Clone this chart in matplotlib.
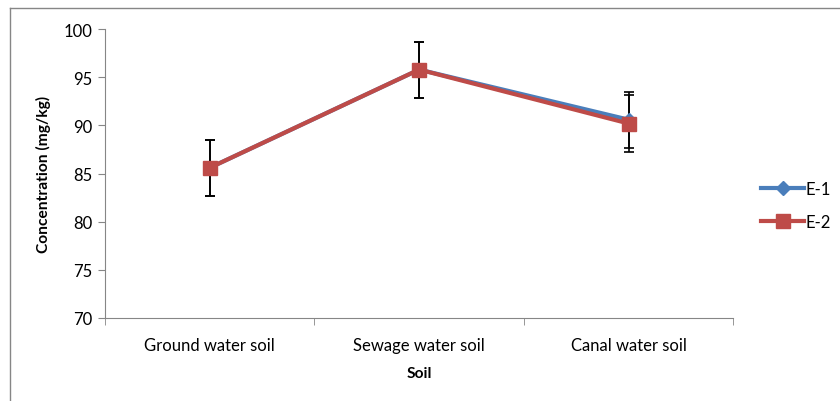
import numpy as np
import matplotlib.pyplot as plt
from matplotlib.lines import Line2D

soils = ['Ground water soil', 'Sewage water soil', 'Canal water soil']
e1 = [85.6, 95.8, 90.6]
e2 = [85.6, 95.8, 90.2]
e1_err = [2.9, 2.9, 2.9]
e2_err = [2.9, 2.9, 3.0]

plt.rcParams['font.family'] = ['Lato', 'DejaVu Sans']
axis_grey = '#868686'

fig = plt.figure(figsize=(8.4, 4.02), dpi=100)
ax = fig.add_axes([0.125, 0.2065, 0.748, 0.7185])

x = np.arange(len(soils))

ax.errorbar(x, e1, yerr=e1_err, fmt='none', ecolor='black', elinewidth=1.2,
            capsize=3.5, capthick=1.2, zorder=2)
ax.errorbar(x, e2, yerr=e2_err, fmt='none', ecolor='black', elinewidth=1.2,
            capsize=3.5, capthick=1.2, zorder=2)
ax.plot(x, e1, color='#4A7EBB', lw=3, marker='D', markersize=7, label='E-1', zorder=3)
ax.plot(x, e2, color='#BE4B48', lw=3, marker='s', markersize=10, label='E-2', zorder=4)

ax.set_xlim(-0.5, 2.5)
ax.set_ylim(70, 100)
ax.set_yticks(np.arange(70, 101, 5))
ax.set_xticks(x)
ax.set_xticklabels(soils)
ax.set_xticks([-0.5, 0.5, 1.5, 2.5], minor=True)
ax.tick_params(axis='x', which='major', length=0, pad=14, labelsize=12)
ax.tick_params(axis='x', which='minor', length=5, color=axis_grey, direction='out')
ax.tick_params(axis='y', length=5, color=axis_grey, labelsize=12, pad=4)

for s in ['top', 'right']:
    ax.spines[s].set_visible(False)
for s in ['left', 'bottom']:
    ax.spines[s].set_color(axis_grey)

ax.set_ylabel('Concentration (mg/kg)', fontsize=11.2, fontweight='bold', labelpad=9)
ax.set_xlabel('Soil', fontsize=11.2, fontweight='bold', labelpad=9)

ax.legend(loc='center left', bbox_to_anchor=(1.02, 0.39), frameon=False,
          fontsize=12, handlelength=2.6, handletextpad=0.1, labelspacing=1.0)

# outer chart frame (top and left edges visible)
fig.add_artist(Line2D([10/840, 10/840], [0, 1 - 9/402], transform=fig.transFigure,
                      color=axis_grey, lw=1))
fig.add_artist(Line2D([10/840, 1], [1 - 9/402, 1 - 9/402], transform=fig.transFigure,
                      color=axis_grey, lw=1))

fig.savefig('out.png', dpi=100)
